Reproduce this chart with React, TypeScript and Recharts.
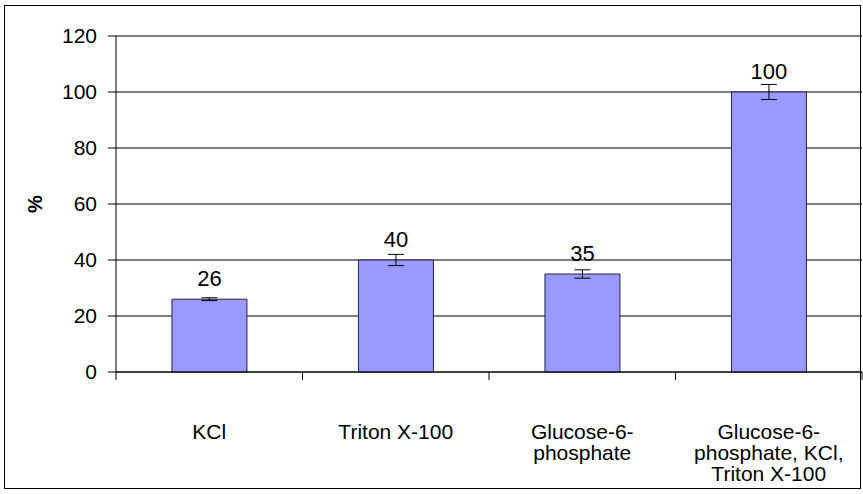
import React from 'react';
import { BarChart, Bar, XAxis, YAxis, CartesianGrid, ErrorBar, LabelList } from 'recharts';

const categories = ['KCl', 'Triton X-100', 'Glucose-6-\nphosphate', 'Glucose-6-\nphosphate, KCl,\nTriton X-100'];
const values = [26, 40, 35, 100];
const errors = [0.5, 2, 1.5, 2.7];
const yTicks = [0, 20, 40, 60, 80, 100, 120];
const boundaryTicks = [-0.5, 0.5, 1.5, 2.5, 3.5];

const data = categories.map((name, i) => ({ name, value: values[i], err: errors[i], idx: i }));

const font = '"Liberation Sans", Arial, sans-serif';

// multi-line category label
const CategoryTick = (props: any) => {
  const { x, y, payload } = props;
  const lines = String(payload.value).split('\n');
  return (
    <text x={x} y={y} textAnchor="middle" fontFamily={font} fontSize={21} fill="#000">
      {lines.map((line: string, i: number) => (
        <tspan key={i} x={x} dy={i === 0 ? 66 : 21}>
          {line}
        </tspan>
      ))}
    </text>
  );
};

const App: React.FC = () => {
  return (
    <div style={{ position: 'absolute', left: 0, top: 0, width: 863, height: 494, background: '#fff' }}>
      <div
        style={{
          position: 'absolute',
          left: 4,
          top: 5,
          width: 857,
          height: 484,
          border: '1px solid #000',
          boxSizing: 'border-box',
        }}
      />
      <BarChart
        width={863}
        height={494}
        data={data}
        margin={{ top: 36, right: 1, left: 0, bottom: 0 }}
        barCategoryGap="30%"
        style={{ position: 'absolute', left: 0, top: 0 }}
      >
        <CartesianGrid vertical={false} stroke="#000" strokeOpacity={1} />
        {/* tick marks between categories */}
        <XAxis
          dataKey="idx"
          type="number"
          domain={[-0.5, 3.5]}
          ticks={boundaryTicks}
          allowDataOverflow
          height={1}
          tick={() => <g />}
          tickSize={8}
          stroke="#000"
        />
        <XAxis
          xAxisId="labels"
          dataKey="name"
          height={121}
          tickLine={false}
          axisLine={false}
          tickSize={0}
          tickMargin={0}
          interval={0}
          tick={<CategoryTick />}
        />
        <YAxis
          domain={[0, 120]}
          ticks={yTicks}
          width={116}
          tickSize={8}
          tickMargin={11}
          stroke="#000"
          tick={{ fill: '#000', fontFamily: font, fontSize: 21 }}
          label={{
            value: '%',
            angle: -90,
            position: 'insideLeft',
            dx: 30,
            style: { fontFamily: font, fontSize: 20, fontWeight: 'bold', fill: '#000', textAnchor: 'middle' },
          }}
        />
        <Bar xAxisId="labels" dataKey="value" fill="#9999FF" stroke="#222244" strokeWidth={1} isAnimationActive={false}>
          <ErrorBar dataKey="err" width={8} stroke="#000" strokeWidth={1} direction="y" />
          <LabelList dataKey="value" position="top" offset={13} fill="#000" fontFamily={font} fontSize={22} />
        </Bar>
      </BarChart>
    </div>
  );
};

export default App;
